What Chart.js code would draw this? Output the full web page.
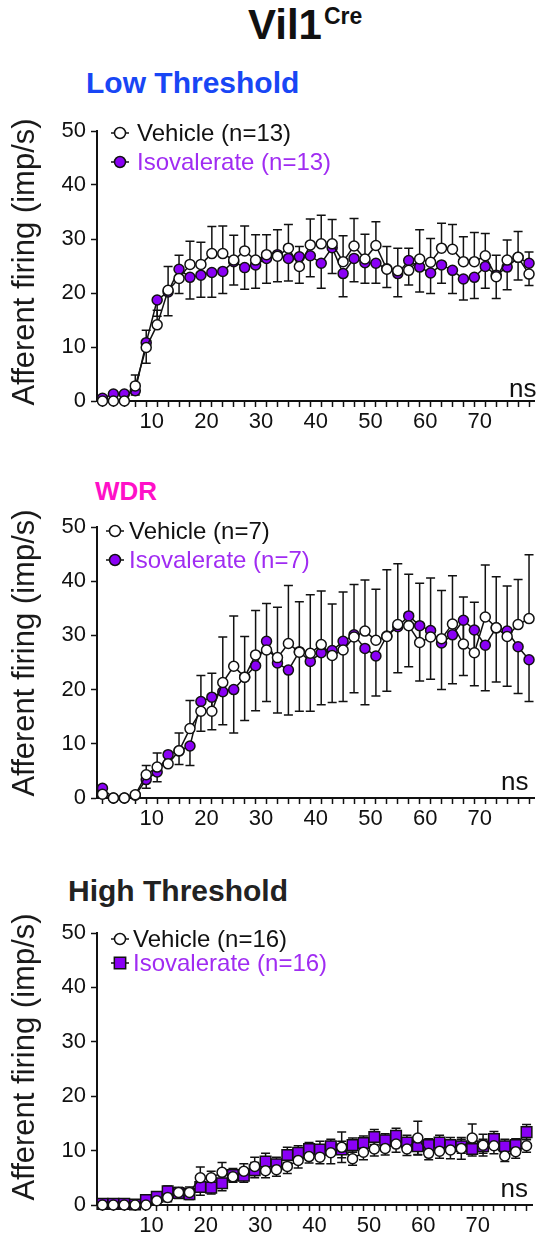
<!DOCTYPE html>
<html>
<head>
<meta charset="utf-8">
<script src="https://cdn.jsdelivr.net/npm/chart.js@4.4.1/dist/chart.umd.min.js"></script>
<style>
  body { margin: 0; background: #fff; width: 541px; height: 1236px; position: relative; overflow: hidden; font-family: "Liberation Sans", Arial, sans-serif; }
  .lbl { position: absolute; font-weight: bold; line-height: 1; white-space: nowrap; }
  canvas { position: absolute; left: 0; }
</style>
</head>
<body>
<div class="lbl" style="left:248px; top:4px; font-size:42px; color:#111;">Vil1<span style="font-size:23px; position:relative; top:-15px; margin-left:2px;">Cre</span></div>
<div class="lbl" style="left:86px; top:68px; font-size:30px; color:#1846f5;">Low Threshold</div>
<div class="lbl" style="left:95px; top:478px; font-size:26px; color:#ff10c8;">WDR</div>
<div class="lbl" style="left:68px; top:876px; font-size:30px; color:#222;">High Threshold</div>

<canvas id="lowChart" width="541" height="335" style="top:100px"></canvas>
<canvas id="wdrChart" width="541" height="335" style="top:497px"></canvas>
<canvas id="highChart" width="541" height="333" style="top:903px"></canvas>

<script>
// time bins (x) and labelled ticks
const timeBins = [1, 3, 5, 7, 9, 11, 13, 15, 17, 19, 21, 23, 25, 27, 29, 31, 33, 35, 37, 39,
  41, 43, 45, 47, 49, 51, 53, 55, 57, 59, 61, 63, 65, 67, 69, 71, 73, 75, 77, 79];
const xLabels = [10, 20, 30, 40, 50, 60, 70];
const yTicks = [0, 10, 20, 30, 40, 50];

// Low threshold
const lowLabels = ["Vehicle (n=13)", "Isovalerate (n=13)"];
const lowVehicleMean = [0, 0, 0, 2.8, 9.9, 14.1, 20.5, 22.7, 25.3, 25.3, 27.3, 27.3, 26.1, 27.8, 26.1, 27.1, 26.8, 28.3, 24.9, 28.9,
  29.1, 29.1, 25.8, 28.7, 26.3, 28.8, 24.4, 24.1, 24.2, 26.3, 25.7, 28.3, 28.1, 25.8, 25.8, 26.9, 23.0, 26.1, 26.6, 23.5];
const lowVehicleSem = [0.3, 0.3, 0.3, 2.0, 3.2, 2.7, 4.4, 4.3, 4.3, 4.1, 5.0, 5.1, 4.6, 4.6, 4.7, 3.7, 4.9, 4.4, 3.7, 4.8,
  5.3, 4.5, 4.8, 5.1, 4.6, 4.4, 4.2, 4.2, 4.1, 5.4, 4.4, 4.6, 4.6, 4.6, 5.4, 4.1, 4.0, 3.7, 4.8, 4.1];
const lowIsoMean = [0.5, 1.3, 1.3, 1.9, 10.8, 18.7, 20.2, 24.4, 22.9, 23.3, 23.8, 24.0, 25.8, 24.7, 25.2, 26.4, 27.1, 26.4, 26.7, 26.9,
  25.5, 28.4, 23.6, 26.4, 25.6, 25.5, 24.5, 23.6, 26.0, 24.8, 23.7, 25.2, 24.2, 22.6, 22.9, 24.9, 23.3, 24.8, 26.6, 25.5];
const lowIsoSem = [0.3, 0.4, 0.4, 0.8, 3.8, 3.0, 4.4, 4.5, 4.0, 4.1, 4.6, 4.1, 4.3, 4.0, 4.3, 4.6, 5.0, 4.2, 4.9, 3.9,
  4.6, 4.8, 4.3, 4.3, 3.8, 3.7, 3.5, 4.3, 4.5, 4.6, 3.8, 3.4, 4.3, 3.9, 3.9, 4.0, 4.3, 4.2, 4.2, 4.1];

// WDR
const wdrLabels = ["Vehicle (n=7)", "Isovalerate (n=7)"];
const wdrVehicleMean = [0.7, 0, 0, 0.6, 4.3, 5.7, 6.3, 8.7, 12.8, 16.0, 16.0, 21.3, 24.3, 22.3, 26.4, 27.3, 25.9, 28.5, 26.9, 26.7,
  28.3, 26.3, 27.3, 29.7, 30.8, 29.1, 29.8, 32.0, 31.8, 28.7, 29.7, 29.4, 32.1, 28.4, 26.8, 33.4, 31.4, 29.8, 32.0, 33.1];
const wdrVehicleSem = [0.5, 0.2, 0.2, 0.5, 1.7, 2.6, 2.0, 3.3, 5.2, 6.6, 7.0, 8.4, 9.3, 7.5, 8.2, 8.6, 9.3, 10.7, 9.3, 10.8,
  9.9, 9.5, 10.7, 9.7, 9.4, 9.4, 12.3, 11.2, 9.5, 10.9, 10.9, 8.9, 8.9, 8.7, 9.3, 9.6, 9.4, 9.3, 8.3, 11.8];
const wdrIsoMean = [1.8, 0, 0, 0.5, 3.4, 4.8, 8.0, 8.7, 9.6, 17.8, 18.6, 19.6, 20.0, 22.3, 24.4, 28.9, 24.9, 23.6, 27.0, 25.2,
  26.8, 27.2, 28.9, 30.1, 27.6, 26.2, 29.9, 31.6, 33.6, 31.8, 30.9, 28.6, 30.1, 32.8, 31.0, 28.2, 31.4, 30.8, 27.9, 25.5];
const wdrIsoSem = [0.6, 0.2, 0.2, 0.4, 1.6, 1.8, 1.8, 2.5, 3.6, 5.5, 6.0, 6.1, 8.0, 8.0, 8.3, 11.1, 9.2, 8.3, 11.0, 9.2,
  9.6, 9.6, 11.1, 10.7, 10.4, 7.4, 10.2, 8.5, 9.4, 10.2, 9.0, 8.6, 9.0, 10.2, 10.3, 8.4, 10.0, 10.2, 8.6, 7.7];

// High threshold
const highLabels = ["Vehicle (n=16)", "Isovalerate (n=16)"];
const highVehicleMean = [0, 0, 0, 0, 0, 0.8, 1.4, 2.3, 2.3, 5.0, 5.0, 6.0, 5.2, 6.2, 7.1, 6.3, 6.5, 7.1, 8.2, 8.9,
  8.8, 9.6, 10.6, 8.5, 9.7, 10.3, 10.4, 11.2, 10.3, 12.3, 9.5, 9.9, 10.1, 10.4, 12.3, 11.0, 10.9, 9.0, 9.8, 10.9];
const highVehicleSem = [0.2, 0.2, 0.2, 0.2, 0.2, 0.6, 0.8, 0.9, 1.0, 2.0, 1.2, 1.8, 1.0, 1.4, 1.7, 1.3, 1.2, 1.3, 1.4, 1.2,
  1.2, 2.0, 2.8, 1.2, 1.4, 1.3, 1.2, 1.5, 1.2, 3.1, 1.2, 1.3, 1.6, 2.0, 2.6, 2.0, 1.5, 1.0, 1.2, 1.2];
const highIsoMean = [0.2, 0.2, 0.2, 0.1, 0.9, 1.5, 2.5, 2.2, 2.0, 3.3, 3.2, 4.0, 5.5, 5.4, 6.4, 8.0, 7.5, 9.2, 9.6, 10.3,
  10.2, 10.8, 10.2, 11.0, 11.4, 12.5, 11.9, 12.7, 11.5, 10.8, 11.0, 11.5, 11.0, 10.8, 10.3, 10.8, 12.1, 10.8, 11.0, 13.4];
const highIsoSem = [0.2, 0.2, 0.2, 0.2, 0.6, 0.8, 1.0, 1.0, 1.0, 1.5, 1.2, 1.4, 1.2, 1.2, 1.4, 1.5, 1.3, 1.4, 1.3, 1.2,
  1.5, 1.3, 1.5, 1.3, 1.3, 1.4, 1.2, 1.4, 1.3, 1.5, 1.2, 1.3, 1.4, 1.3, 1.3, 1.3, 1.4, 1.3, 1.2, 1.4];

const FONT = '"Liberation Sans", Arial, sans-serif';
const INK = "#111";
const PURPLE = "#8a00f5";
const PURPLE_TEXT = "#a02cf2";

Chart.defaults.font.family = FONT;
Chart.defaults.color = INK;

// SEM bars, drawn under lines and points
const errorBars = {
  id: "errorBars",
  beforeDatasetsDraw(chart) {
    const { ctx } = chart;
    const yScale = chart.scales.y;
    ctx.save();
    ctx.strokeStyle = INK;
    ctx.lineWidth = 1.5;
    chart.data.datasets.forEach((ds, i) => {
      const meta = chart.getDatasetMeta(i);
      meta.data.forEach((pt, j) => {
        const mean = ds.data[j].y;
        const err = ds.sem[j];
        const up = ds.errDir !== "down";
        const down = ds.errDir !== "up";
        const top = up ? yScale.getPixelForValue(mean + err) : pt.y;
        const bottom = down ? yScale.getPixelForValue(mean - err) : pt.y;
        ctx.beginPath();
        ctx.moveTo(pt.x, top);
        ctx.lineTo(pt.x, bottom);
        if (up) { ctx.moveTo(pt.x - 4.5, top); ctx.lineTo(pt.x + 4.5, top); }
        if (down) { ctx.moveTo(pt.x - 4.5, bottom); ctx.lineTo(pt.x + 4.5, bottom); }
        ctx.stroke();
      });
    });
    ctx.restore();
  }
};

// legend inside the plot, y title and "ns"
const panelText = {
  id: "panelText",
  afterDraw(chart, args, opts) {
    const { ctx, chartArea } = chart;
    ctx.save();
    chart.data.datasets.forEach((ds, i) => {
      const yy = opts.rows[i];
      ctx.strokeStyle = INK;
      ctx.lineWidth = 1.5;
      ctx.beginPath();
      ctx.moveTo(opts.markerX - 9, yy);
      ctx.lineTo(opts.markerX + 9, yy);
      ctx.stroke();
      ctx.fillStyle = ds.pointBackgroundColor;
      Chart.helpers.drawPoint(ctx, { pointStyle: ds.pointStyle, radius: ds.pointRadius + 0.5, borderWidth: 1.5, rotation: 0 }, opts.markerX, yy);
      ctx.fillStyle = ds.legendColor;
      ctx.font = "24px " + FONT;
      ctx.textAlign = "left";
      ctx.textBaseline = "middle";
      ctx.fillText(ds.label, opts.textX, yy + 1);
    });

    ctx.fillStyle = "#1a1a1a";
    ctx.font = "31px " + FONT;
    ctx.textAlign = "center";
    ctx.textBaseline = "middle";
    ctx.translate(25, opts.titleY);
    ctx.rotate(-Math.PI / 2);
    ctx.fillText("Afferent firing (imp/s)", 0, 0);
    ctx.setTransform(1, 0, 0, 1, 0, 0);

    ctx.fillStyle = INK;
    ctx.font = "26px " + FONT;
    ctx.textAlign = "right";
    ctx.textBaseline = "alphabetic";
    ctx.fillText("ns", chartArea.right + opts.nsDx, chartArea.bottom - opts.nsDy);
    ctx.restore();
  }
};

function makeSeries(means) {
  return timeBins.map((t, i) => ({ x: t, y: means[i] }));
}

function createPanel(id, p) {
  const ctx = document.getElementById(id).getContext("2d");
  const common = {
    showLine: true,
    borderColor: INK,
    borderWidth: 1.5,
    pointBorderColor: INK,
    pointBorderWidth: 1.5,
    tension: 0,
    clip: false
  };
  return new Chart(ctx, {
    type: "line",
    data: {
      datasets: [
        {
          ...common,
          label: p.labels[0],
          data: makeSeries(p.vehMean),
          sem: p.vehSem,
          errDir: p.vehDir,
          pointStyle: "circle",
          pointRadius: 5,
          pointBackgroundColor: "#fff",
          legendColor: INK
        },
        {
          ...common,
          label: p.labels[1],
          data: makeSeries(p.isoMean),
          sem: p.isoSem,
          errDir: p.isoDir,
          pointStyle: p.isoStyle,
          pointRadius: p.isoStyle === "rect" ? 7.5 : 5,
          pointBackgroundColor: PURPLE,
          legendColor: PURPLE_TEXT
        }
      ]
    },
    options: {
      responsive: false,
      animation: false,
      devicePixelRatio: 1,
      layout: { padding: { top: p.padTop, right: 5, left: 0, bottom: 0 } },
      plugins: {
        legend: { display: false },
        tooltip: { enabled: false },
        panelText: p.text
      },
      scales: {
        x: {
          type: "linear",
          min: 0,
          max: 80,
          afterFit: (s) => { s.height = p.xHeight; },
          afterBuildTicks: (s) => {
            s.ticks = timeBins.concat(xLabels).sort((a, b) => a - b).map((v) => ({ value: v }));
          },
          ticks: {
            autoSkip: false,
            maxRotation: 0,
            padding: 2,
            color: INK,
            font: { size: 22 },
            callback: (v) => (xLabels.includes(v) ? String(v) : "")
          },
          grid: {
            drawOnChartArea: false,
            tickLength: 6,
            tickWidth: 1.5,
            tickColor: (c) => (c.tick && xLabels.includes(c.tick.value) ? "rgba(0,0,0,0)" : INK)
          },
          border: { color: INK, width: 2 }
        },
        y: {
          min: 0,
          max: 50,
          afterFit: (s) => { s.width = 97; },
          afterBuildTicks: (s) => { s.ticks = yTicks.map((v) => ({ value: v })); },
          ticks: { padding: 5, color: INK, font: { size: 22 } },
          grid: { drawOnChartArea: false, tickLength: 6, tickWidth: 1.5, tickColor: INK },
          border: { color: INK, width: 2 }
        }
      }
    },
    plugins: [errorBars, panelText]
  });
}

createPanel("lowChart", {
  labels: lowLabels,
  vehMean: lowVehicleMean, vehSem: lowVehicleSem, vehDir: "up",
  isoMean: lowIsoMean, isoSem: lowIsoSem, isoDir: "down", isoStyle: "circle",
  padTop: 31, xHeight: 34,
  text: { markerX: 120, textX: 137, rows: [33, 62], titleY: 162, nsDx: 2, nsDy: 4 }
});

createPanel("wdrChart", {
  labels: wdrLabels,
  vehMean: wdrVehicleMean, vehSem: wdrVehicleSem, vehDir: "up",
  isoMean: wdrIsoMean, isoSem: wdrIsoSem, isoDir: "down", isoStyle: "circle",
  padTop: 30, xHeight: 34,
  text: { markerX: 115, textX: 129, rows: [34, 63], titleY: 156, nsDx: -6, nsDy: 8 }
});

createPanel("highChart", {
  labels: highLabels,
  vehMean: highVehicleMean, vehSem: highVehicleSem, vehDir: "both",
  isoMean: highIsoMean, isoSem: highIsoSem, isoDir: "both", isoStyle: "rect",
  padTop: 30, xHeight: 31,
  text: { markerX: 120, textX: 133, rows: [36, 60], titleY: 154, nsDx: -4, nsDy: 8 }
});
</script>
</body>
</html>
